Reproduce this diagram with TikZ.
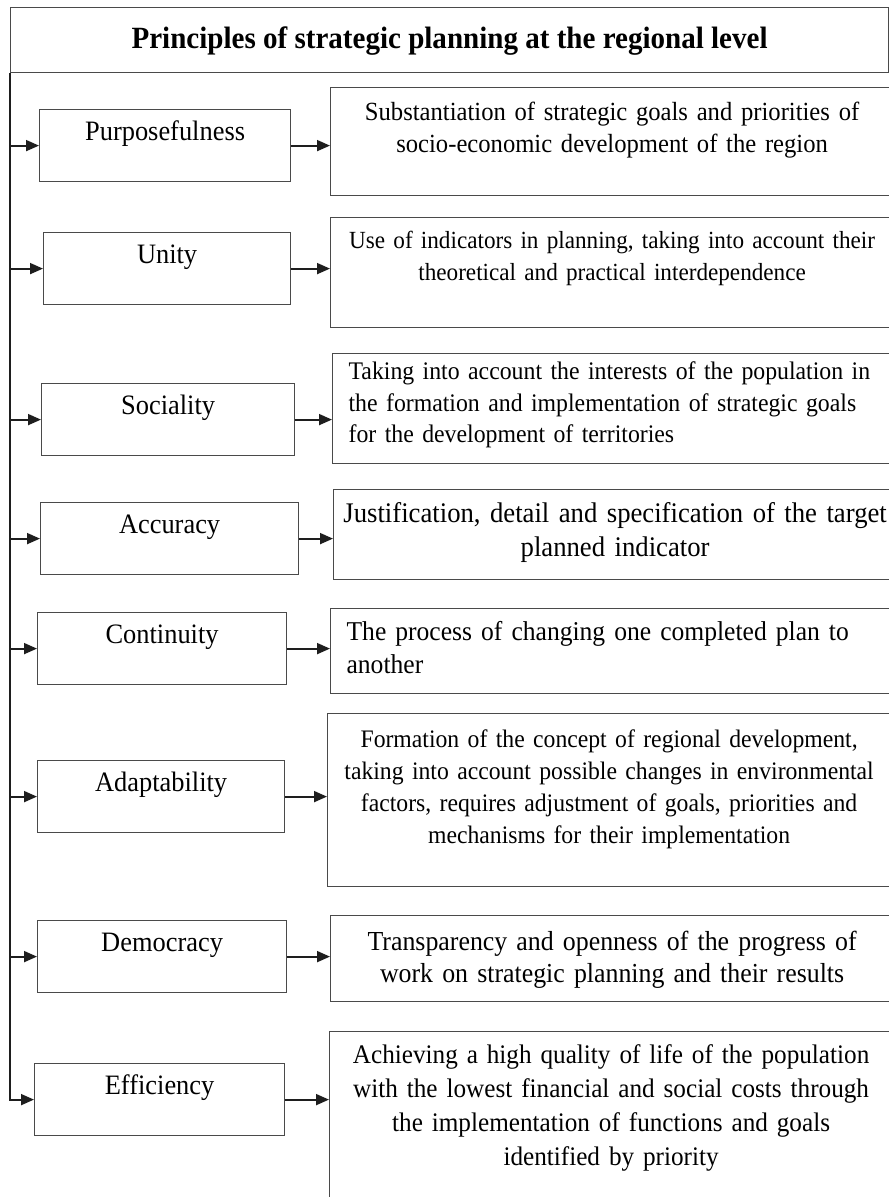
\documentclass[tikz,border=0pt]{standalone}
\usepackage{fontspec}
\setmainfont{Liberation Serif}[FakeStretch=0.94]
\usetikzlibrary{arrows.meta}
\definecolor{boxline}{HTML}{4A4A4A}
\definecolor{arrowline}{HTML}{1E1E1E}
\tikzset{
  title box/.style={
    draw=boxline,
    line width=1.2pt,
    anchor=north west,
    minimum width=878pt,
    minimum height=65pt,
    text height=23pt,
    font=\fontsize{30.9}{36}\selectfont\bfseries,
  },
  principle box/.style={
    draw=boxline,
    line width=1.2pt,
    anchor=north west,
    minimum width={#1pt},
    inner ysep=0pt,
    text height=31pt,
    text depth=41pt,
    font=\fontsize{28.1}{32}\selectfont,
  },
  goal box/.style 2 args={
    draw=boxline,
    line width=1.2pt,
    anchor=north west,
    text width=555pt,
    inner xsep=4pt,
    inner ysep=0pt,
    align=center,
    text height={#1pt},
    text depth={#2pt},
    font=\fontsize{26}{32.5}\selectfont,
  },
  flush/.style={
    align=left,
    text width=531pt,
    inner xsep=16pt,
  },
  link/.style={
    draw=arrowline,
    line width=1.8pt,
    -{Triangle[length=13pt,width=11pt]},
  }
}

\begin{document}
\begin{tikzpicture}[x=1pt, y=-1pt]
        \useasboundingbox (0,0) rectangle (889,1197);
        \clip (0,0) rectangle (889,1197);

        \node [title box] (title) at (10,7) {Principles of strategic planning at the regional level};

        \node [principle box=251] (p1) at (39,109) {Purposefulness};
        \node [principle box=247] (p2) at (43,232) {Unity};
        \node [principle box=253] (p3) at (41,383) {Sociality};
        \node [principle box=258] (p4) at (40,502) {Accuracy};
        \node [principle box=249] (p5) at (37,612) {Continuity};
        \node [principle box=247] (p6) at (37,760) {Adaptability};
        \node [principle box=249] (p7) at (37,920) {Democracy};
        \node [principle box=250] (p8) at (34,1063) {Efficiency};

        \node [goal box={33}{75}, font=\fontsize{26.2}{32}\selectfont] (r1) at (330,87) {Substantiation of strategic goals and priorities of\\ socio-economic development of the region};
        \node [goal box={31}{79}, font=\fontsize{24.65}{32}\selectfont] (r2) at (330,217) {Use of indicators in planning, taking into account their\\ theoretical and practical interdependence};
        \node [goal box={26}{84}, flush, font=\fontsize{25.3}{31.5}\selectfont] (r3) at (332,353) {Taking into account the interests of the population in\\ the formation and implementation of strategic goals\\ for the development of territories};
        \node [goal box={33}{57}, font=\fontsize{28.4}{34}\selectfont] (r4) at (333,489) {Justification, detail and specification of the target\\ planned indicator};
        \node [goal box={32}{53}, flush, font=\fontsize{27.2}{33}\selectfont] (r5) at (330,608) {The process of changing one completed plan to\\ another};
        \node [goal box={34}{139}, font=\fontsize{25.2}{32}\selectfont] (r6) at (327,713) {Formation of the concept of regional development,\\ taking into account possible changes in environmental\\ factors, requires adjustment of goals, priorities and\\ mechanisms for their implementation};
        \node [goal box={35}{51}, font=\fontsize{27.5}{32}\selectfont] (r7) at (330,915) {Transparency and openness of the progress of\\ work on strategic planning and their results};
        \node [goal box={32}{180}, font=\fontsize{26.8}{34}\selectfont] (r8) at (329,1031) {Achieving a high quality of life of the population\\ with the lowest financial and social costs through\\ the implementation of functions and goals\\ identified by priority};

        \draw [link] (title.south west) |- (p8.west);
        \foreach \i in {1,...,7}
          \draw [link] (title.south west |- p\i.west) -- (p\i.west);
        \foreach \i in {1,...,8}
          \draw [link] (p\i.east) -- (p\i.east -| r\i.west);
      \end{tikzpicture}
\end{document}
